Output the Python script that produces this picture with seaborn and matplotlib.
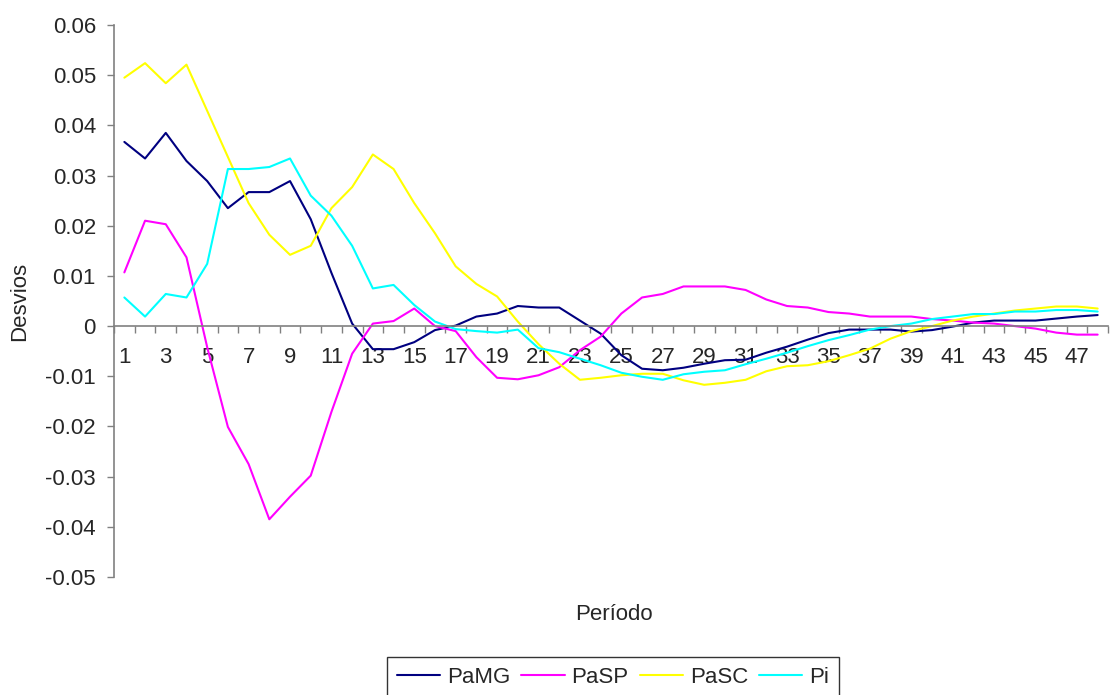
import numpy as np
import pandas as pd
import matplotlib
matplotlib.use("Agg")
import matplotlib.pyplot as plt
import seaborn as sns

periods = list(range(1, 49))

pamg = [0.0367, 0.0334, 0.0385, 0.0329, 0.0289, 0.0235, 0.0267, 0.0267, 0.0289, 0.0213,
        0.0106, 0.0005, -0.0046, -0.0046, -0.0032, -0.0008, 0.0001, 0.0019, 0.0025, 0.0040,
        0.0037, 0.0037, 0.0011, -0.0015, -0.0058, -0.0085, -0.0088, -0.0083, -0.0075, -0.0068,
        -0.0067, -0.0053, -0.0041, -0.0027, -0.0014, -0.0007, -0.0007, -0.0007, -0.0011, -0.0008,
        -0.0001, 0.0007, 0.0011, 0.0011, 0.0011, 0.0015, 0.0019, 0.0022]

pasp = [0.0107, 0.0210, 0.0203, 0.0137, -0.0042, -0.0201, -0.0275, -0.0385, -0.0340, -0.0298,
        -0.0171, -0.0055, 0.0005, 0.0010, 0.0035, 0.0000, -0.0010, -0.0062, -0.0103, -0.0106,
        -0.0098, -0.0082, -0.0048, -0.0021, 0.0025, 0.0057, 0.0064, 0.0079, 0.0079, 0.0079,
        0.0072, 0.0053, 0.0040, 0.0037, 0.0028, 0.0025, 0.0019, 0.0019, 0.0019, 0.0014,
        0.0011, 0.0007, 0.0005, 0.0000, -0.0005, -0.0013, -0.0017, -0.0017]

pasc = [0.0495, 0.0524, 0.0484, 0.0521, 0.0429, 0.0337, 0.0245, 0.0182, 0.0142, 0.0160,
        0.0235, 0.0277, 0.0342, 0.0313, 0.0245, 0.0185, 0.0119, 0.0084, 0.0059, 0.0009,
        -0.0036, -0.0075, -0.0107, -0.0103, -0.0098, -0.0095, -0.0095, -0.0108, -0.0117, -0.0113,
        -0.0107, -0.0090, -0.0080, -0.0078, -0.0070, -0.0058, -0.0045, -0.0025, -0.0010, 0.0000,
        0.0011, 0.0019, 0.0025, 0.0031, 0.0035, 0.0039, 0.0039, 0.0035]

pi = [0.0057, 0.0019, 0.0064, 0.0057, 0.0124, 0.0313, 0.0313, 0.0317, 0.0334, 0.0260,
      0.0220, 0.0160, 0.0075, 0.0082, 0.0042, 0.0009, -0.0006, -0.0010, -0.0013, -0.0007,
      -0.0044, -0.0052, -0.0065, -0.0078, -0.0093, -0.0101, -0.0107, -0.0096, -0.0091, -0.0088,
      -0.0076, -0.0065, -0.0053, -0.0040, -0.0028, -0.0018, -0.0007, 0.0000, 0.0005, 0.0014,
      0.0019, 0.0024, 0.0024, 0.0029, 0.0029, 0.0032, 0.0032, 0.0029]

series_names = ["PaMG", "PaSP", "PaSC", "Pi"]
series_colors = ["#000080", "#FF00FF", "#FFFF00", "#00FFFF"]
y_ticks = [-0.05, -0.04, -0.03, -0.02, -0.01, 0, 0.01, 0.02, 0.03, 0.04, 0.05, 0.06]
y_labels = ["-0.05", "-0.04", "-0.03", "-0.02", "-0.01", "0", "0.01", "0.02", "0.03", "0.04", "0.05", "0.06"]

df = pd.DataFrame({
    "Período": periods * 4,
    "idx": list(range(48)) * 4,
    "Desvios": pamg + pasp + pasc + pi,
    "Série": sum([[n] * 48 for n in series_names], []),
})

sns.set_style("white")
plt.rcParams["font.family"] = ["Liberation Sans", "DejaVu Sans"]
FS = 16

fig = plt.figure(figsize=(11.1, 6.95), dpi=100)
ax = fig.add_axes([114 / 1110, 1 - 577 / 695, 994 / 1110, 552 / 695])

sns.lineplot(data=df, x="idx", y="Desvios", hue="Série", hue_order=series_names,
             palette=dict(zip(series_names, series_colors)), linewidth=1.5, ax=ax,
             legend=True)

ax.set_xlim(-0.5, 47.5)
ax.set_ylim(-0.05, 0.06)

for s in ["top", "right"]:
    ax.spines[s].set_visible(False)
ax.spines["left"].set_color("#808080")
ax.spines["left"].set_linewidth(1.2)
ax.spines["bottom"].set_position(("data", 0))
ax.spines["bottom"].set_color("#808080")
ax.spines["bottom"].set_linewidth(1.2)

ax.set_yticks(y_ticks)
ax.set_yticklabels(y_labels, fontsize=FS)
ax.tick_params(axis="y", direction="out", length=5, color="#808080", width=1, pad=8, left=True)

ax.set_xticks(np.arange(-0.5, 48, 1.0))
ax.set_xticklabels([])
ax.tick_params(axis="x", which="major", direction="out", length=5, color="#808080", width=1, bottom=True)
ax.set_xticks(list(range(0, 48, 2)), minor=True)
ax.set_xticklabels([str(p) for p in periods[0::2]], minor=True, fontsize=FS)
ax.tick_params(axis="x", which="minor", length=0, pad=15)

ax.set_xlabel("")
ax.set_ylabel("Desvios", fontsize=FS)
ax.yaxis.set_label_coords(-0.084, 0.5)
fig.text(614 / 1110, 1 - 615 / 695, "Período", ha="center", va="center", fontsize=FS)

handles, labels = ax.get_legend_handles_labels()
if ax.legend_:
    ax.legend_.remove()
leg = fig.legend(handles, labels, loc="upper center", bbox_to_anchor=(613 / 1110, 1 - 657 / 695),
                 ncol=4, fontsize=FS, frameon=True, fancybox=False, edgecolor="black",
                 handlelength=1.95, handletextpad=0.3, columnspacing=0.5, borderpad=0.45,
                 borderaxespad=0)
leg.get_frame().set_linewidth(1.0)
for h in leg.get_lines():
    h.set_linewidth(1.5)

fig.savefig("out.png", dpi=100)
